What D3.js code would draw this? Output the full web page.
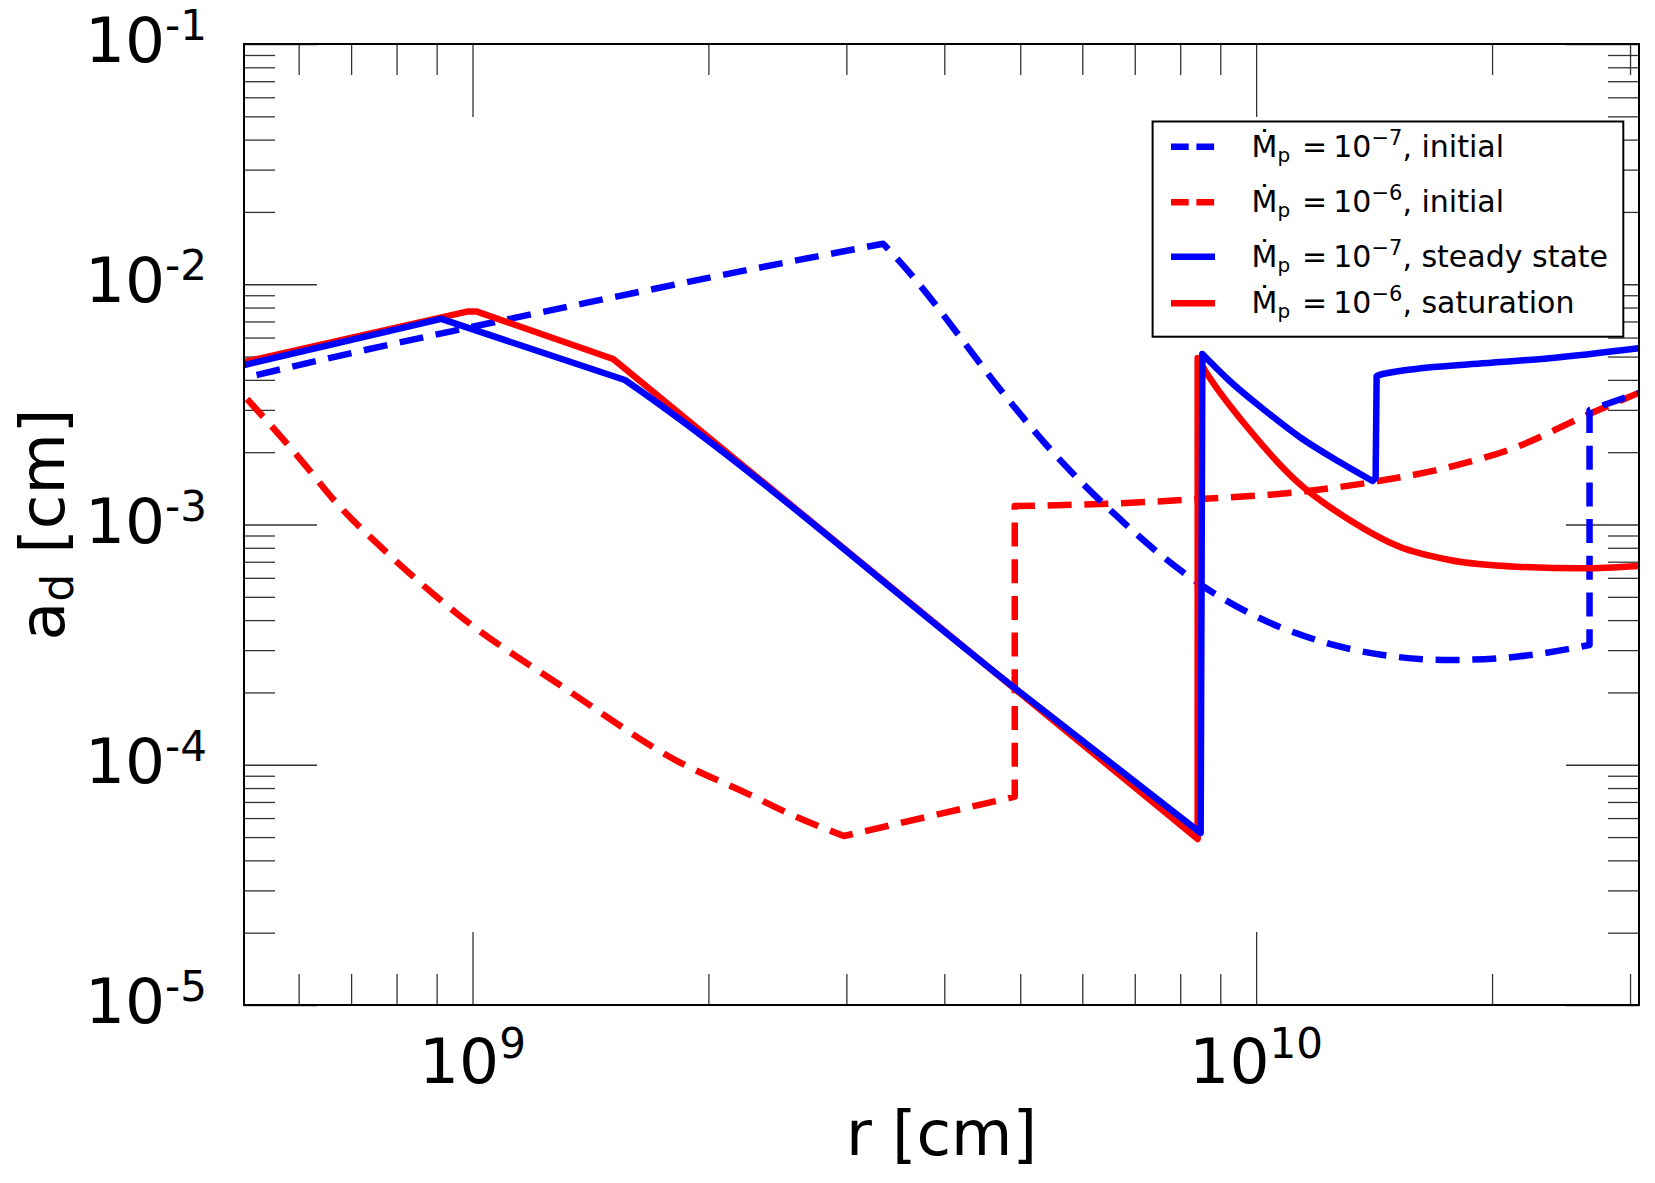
<!DOCTYPE html>
<html>
<head>
<meta charset="utf-8">
<script src="https://cdn.jsdelivr.net/npm/d3@7"></script>
<style>
  body { margin: 0; background: #fff; }
  text { font-family: "DejaVu Sans", sans-serif; fill: #000; }
</style>
</head>
<body>
<div id="chart"></div>
<script>
// r [cm], a_d [cm] pairs
const blueInitial = [
  [5.302e8, 4.190e-3], [6.717e8, 5.013e-3], [9.697e8, 6.511e-3], [1.400e9, 8.380e-3],
  [2.541e9, 1.242e-2], [3.342e9, 1.474e-2], [3.476e9, 1.286e-2], [4.891e9, 3.144e-3],
  [5.400e9, 2.142e-3], [6.562e9, 1.122e-3], [8.471e9, 5.655e-4], [9.811e9, 4.270e-4],
  [1.1934e10, 3.306e-4], [1.4513e10, 2.862e-4], [1.7655e10, 2.729e-4], [2.147e10, 2.816e-4],
  [2.6633e10, 3.150e-4], [2.6633e10, 2.996e-3], [3.0759e10, 3.526e-3]
];
const redInitial = [
  [5.156e8, 3.330e-3], [5.568e8, 2.521e-3], [6.042e8, 1.855e-3], [6.717e8, 1.222e-3],
  [7.780e8, 7.630e-4], [9.611e8, 4.193e-4], [1.328e9, 2.026e-4], [1.818e9, 1.043e-4],
  [2.246e9, 7.569e-5], [2.541e9, 6.237e-5], [2.978e9, 5.051e-5], [4.920e9, 7.362e-5],
  [4.920e9, 1.194e-3], [6.317e9, 1.217e-3], [8.471e9, 1.277e-3], [1.1362e10, 1.366e-3],
  [1.4082e10, 1.503e-3], [1.7655e10, 1.735e-3], [2.149e10, 2.101e-3], [2.6091e10, 2.802e-3],
  [3.0759e10, 3.526e-3]
];
const blueSteady = [
  [5.111e8, 4.611e-3], [9.122e8, 7.181e-3], [1.565e9, 3.994e-3], [1.612e9, 3.735e-3],
  [4.920e9, 2.087e-4], [8.496e9, 5.199e-5], [8.538e9, 5.124e-3], [9.252e9, 3.956e-3],
  [1.0283e10, 2.968e-3], [1.1362e10, 2.313e-3], [1.2778e10, 1.820e-3], [1.4082e10, 1.517e-3],
  [1.4206e10, 1.562e-3], [1.4248e10, 4.150e-3], [1.4500e10, 4.230e-3], [1.9450e10, 4.688e-3],
  [2.3676e10, 4.918e-3], [3.0759e10, 5.413e-3]
];
const redSaturation = [
  [5.111e8, 4.746e-3], [9.840e8, 7.693e-3], [1.0133e9, 7.693e-3], [1.512e9, 4.885e-3],
  [8.421e9, 4.909e-5], [8.421e9, 4.932e-3], [8.546e9, 4.537e-3], [9.811e9, 2.473e-3],
  [1.1362e10, 1.475e-3], [1.3159e10, 1.044e-3], [1.5241e10, 8.074e-4], [1.7655e10, 7.116e-4],
  [2.149e10, 6.673e-4], [2.6091e10, 6.572e-4], [3.0759e10, 6.718e-4]
];

const xDomain = [5.11e8, 3.08e10];
const yDomain = [1e-5, 1e-1];
const xLabelTicks = [1e9, 1e10];
const yLabelTicks = [1e-5, 1e-4, 1e-3, 1e-2, 1e-1];

const legendExps = ["\u22127", "\u22126", "\u22127", "\u22126"];
const legendTails = [", initial", ", initial", ", steady state", ", saturation"];

// layout
const margin = {top: 44, right: 16, bottom: 178, left: 244};
const width = 1395;
const height = 961;

const svg = d3.select("#chart")
  .append("svg")
    .attr("width", 1655)
    .attr("height", 1183);

svg.append("rect").attr("width", 1655).attr("height", 1183).attr("fill", "#fff");

const g = svg.append("g")
  .attr("transform", `translate(${margin.left}, ${margin.top})`);

const x = d3.scaleLog().domain(xDomain).range([0, width]);
const y = d3.scaleLog().domain(yDomain).range([height, 0]);

const isMajor = v => Math.abs(Math.log10(v) - Math.round(Math.log10(v))) < 1e-9;
const xMajor = x.ticks().filter(isMajor);
const xMinor = x.ticks().filter(v => !isMajor(v));
const yMajor = y.ticks().filter(isMajor);
const yMinor = y.ticks().filter(v => !isMajor(v));

// inward ticks on all four sides
function tickSet(axisFn, scale, values, size, transform) {
  g.append("g")
      .attr("transform", transform)
      .attr("color", "#333")
    .call(axisFn(scale).tickValues(values).tickSize(-size).tickFormat(""))
    .call(s => s.select(".domain").remove())
    .call(s => s.selectAll("line").attr("stroke-width", 1.3));
}
tickSet(d3.axisBottom, x, xMinor, 31, `translate(0, ${height})`);
tickSet(d3.axisBottom, x, xMajor, 73, `translate(0, ${height})`);
tickSet(d3.axisTop, x, xMinor, 31, "translate(0, 0)");
tickSet(d3.axisTop, x, xMajor, 73, "translate(0, 0)");
tickSet(d3.axisLeft, y, yMinor, 31, "translate(0, 0)");
tickSet(d3.axisLeft, y, yMajor, 73, "translate(0, 0)");
tickSet(d3.axisRight, y, yMinor, 31, `translate(${width}, 0)`);
tickSet(d3.axisRight, y, yMajor, 73, `translate(${width}, 0)`);

// curves
svg.append("defs").append("clipPath").attr("id", "plot-clip")
  .append("rect").attr("width", width).attr("height", height);

// smooth the bent runs, keep straight stretches, jumps and kinks as corners
const smooth = d3.line().curve(d3.curveMonotoneX);
const segLen = (p, q) => Math.hypot(q[0] - p[0], q[1] - p[1]);
function curvePath(data) {
  const pts = data.map(d => [x(d[0]), y(d[1])]);
  const pieces = [[pts[0]]];
  for (let i = 1; i < pts.length; i++) {
    pieces[pieces.length - 1].push(pts[i]);
    if (i === pts.length - 1) break;
    const a = Math.atan2(pts[i][1] - pts[i - 1][1], pts[i][0] - pts[i - 1][0]);
    const b = Math.atan2(pts[i + 1][1] - pts[i][1], pts[i + 1][0] - pts[i][0]);
    let turn = Math.abs(b - a);
    if (turn > Math.PI) turn = 2 * Math.PI - turn;
    const jump = pts[i + 1][0] - pts[i][0] < 2 || pts[i][0] - pts[i - 1][0] < 2;
    const long = Math.max(segLen(pts[i - 1], pts[i]), segLen(pts[i], pts[i + 1])) > 160;
    if (turn > 0.3 || (long && turn > 0.12) || jump) pieces.push([pts[i]]);
  }
  return pieces.map((p, k) => {
    const s = smooth(p);
    return k === 0 ? s : "L" + s.slice(1);
  }).join("");
}

const series = [
  {data: redInitial, color: "#ff0000", dash: "24,12.7"},
  {data: blueInitial, color: "#0000ff", dash: "24,12.7"},
  {data: redSaturation, color: "#ff0000", dash: null},
  {data: blueSteady, color: "#0000ff", dash: null}
];

const plot = g.append("g").attr("clip-path", "url(#plot-clip)");
series.forEach(s => {
  plot.append("path")
      .attr("fill", "none")
      .attr("stroke", s.color)
      .attr("stroke-width", 6.5)
      .attr("stroke-linejoin", "round")
      .attr("stroke-dasharray", s.dash)
      .attr("d", curvePath(s.data));
});

// frame
g.append("rect")
    .attr("width", width)
    .attr("height", height)
    .attr("fill", "none")
    .attr("stroke", "#000")
    .attr("stroke-width", 2);

// tick labels 10^n
function powerText(sel, v, raise) {
  sel.append("tspan").text("10");
  sel.append("tspan")
      .attr("dy", -raise)
      .attr("font-size", 42)
    .text(String(Math.round(Math.log10(v))));
}
yLabelTicks.forEach(v => {
  g.append("text")
      .attr("x", -37)
      .attr("y", y(v) + 18)
      .attr("text-anchor", "end")
      .attr("font-size", 63)
    .call(powerText, v, 22);
});
xLabelTicks.forEach(v => {
  g.append("text")
      .attr("x", x(v))
      .attr("y", height + 78)
      .attr("text-anchor", "middle")
      .attr("font-size", 63)
    .call(powerText, v, 25);
});

// axis titles
svg.append("text")
    .attr("x", margin.left + width / 2)
    .attr("y", 1155)
    .attr("text-anchor", "middle")
    .attr("font-size", 63)
  .text("r [cm]");

const yTitle = svg.append("text")
    .attr("transform", `translate(64, ${margin.top + height / 2}) rotate(-90)`)
    .attr("text-anchor", "middle")
    .attr("font-size", 63);
yTitle.append("tspan").text("a");
yTitle.append("tspan").attr("dy", 9).attr("font-size", 44).text("d");
yTitle.append("tspan").attr("dy", -9).text(" [cm]");

// legend
const legend = svg.append("g");
legend.append("rect")
    .attr("x", 1152.6)
    .attr("y", 121.5)
    .attr("width", 470.7)
    .attr("height", 215.2)
    .attr("fill", "#fff")
    .attr("stroke", "#000")
    .attr("stroke-width", 2);

const legendRows = [146.7, 202.3, 256.7, 303.3];
[series[1], series[0], series[3], series[2]].forEach((s, i) => {
  const ly = legendRows[i];
  legend.append("line")
      .attr("x1", 1171).attr("x2", 1215)
      .attr("y1", ly).attr("y2", ly)
      .attr("stroke", s.color)
      .attr("stroke-width", 6.5)
      .attr("stroke-dasharray", s.dash ? "17.7,7.7" : null);
  const t = legend.append("text")
      .attr("x", 1251.5)
      .attr("y", ly + 10)
      .attr("font-size", 30);
  t.append("tspan").text("\u1E40");
  t.append("tspan").attr("dy", 5).attr("font-size", 20).text("p");
  t.append("tspan").attr("dy", -5).attr("dx", 12).text("=");
  t.append("tspan").attr("dx", 6).text("10");
  t.append("tspan").attr("dy", -12).attr("font-size", 21).text(legendExps[i]);
  t.append("tspan").attr("dy", 12).text(legendTails[i]);
});
</script>
</body>
</html>
